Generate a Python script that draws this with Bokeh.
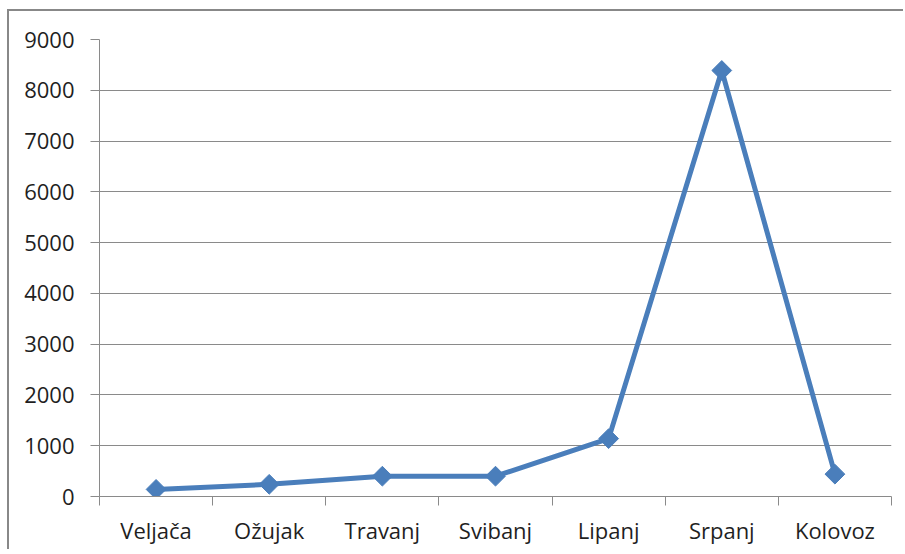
import math
from bokeh.plotting import figure
from bokeh.models import Range1d, FixedTicker
from bokeh.embed import file_html
from bokeh.resources import INLINE

categories = ["Veljača", "Ožujak", "Travanj", "Svibanj", "Lipanj", "Srpanj", "Kolovoz"]
values = [140, 240, 400, 400, 1140, 8390, 440]
y_ticks = [0, 1000, 2000, 3000, 4000, 5000, 6000, 7000, 8000, 9000]

n = len(categories)
x_pos = list(range(n))

p = figure(width=896, height=540, output_backend="svg", toolbar_location=None,
           x_range=Range1d(-0.5, n - 0.5), y_range=Range1d(y_ticks[0], y_ticks[-1]),
           min_border_left=90, min_border_right=14, min_border_top=28, min_border_bottom=55)
p.styles = {"margin-left": "7px", "margin-top": "9px",
            "border-left": "2px solid #888888", "border-top": "2px solid #888888"}
p.outline_line_color = None
p.background_fill_color = "white"
p.border_fill_color = "white"

FONT = "Open Sans"
AX = "#8a8a8a"

xa = p.xaxis[0]
xa.ticker = FixedTicker(ticks=x_pos, minor_ticks=[i - 0.5 for i in range(n + 1)])
xa.major_label_overrides = {i: c for i, c in enumerate(categories)}
xa.major_tick_out = 0
xa.major_tick_in = 0
xa.minor_tick_out = 9
xa.minor_tick_in = 0
xa.minor_tick_line_color = AX
xa.axis_line_color = AX
xa.major_label_text_font = FONT
xa.major_label_text_font_size = "22px"
xa.major_label_text_color = "#1f1f1f"
xa.major_label_standoff = 9

ya = p.yaxis[0]
ya.ticker = FixedTicker(ticks=y_ticks, minor_ticks=[])
ya.major_tick_out = 9
ya.major_tick_in = 0
ya.major_tick_line_color = AX
ya.minor_tick_line_color = None
ya.axis_line_color = AX
ya.major_label_text_font = FONT
ya.major_label_text_font_size = "22px"
ya.major_label_text_color = "#1f1f1f"
ya.major_label_standoff = 16

p.xgrid.visible = False
p.ygrid.grid_line_color = AX
p.ygrid.grid_line_width = 1

p.line(x_pos, values, line_color="#4a7ebb", line_width=5, line_join="round")
p.scatter(x_pos, values, marker="square", size=14, angle=math.pi / 4,
          fill_color="#4a7ebb", line_color="#4a7ebb")

open("out.html", "w").write(file_html(p, INLINE))
